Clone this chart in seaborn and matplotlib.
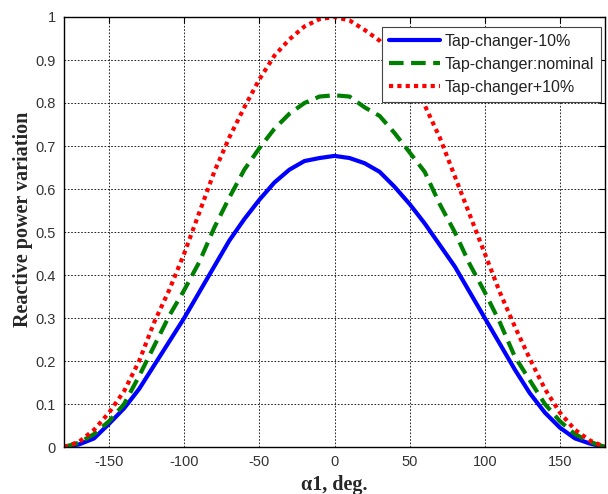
import numpy as np
import pandas as pd
import matplotlib
matplotlib.use("Agg")
import matplotlib.pyplot as plt
import seaborn as sns

angles = [-180, -170, -160, -150, -140, -130, -120, -110, -100, -90, -80, -70, -60, -50, -40, -30, -20, -10,
          0, 10, 20, 30, 40, 50, 60, 70, 80, 90, 100, 110, 120, 130, 140, 150, 160, 170, 180]

tap_minus = [0.0, 0.006, 0.02, 0.054, 0.09, 0.135, 0.19, 0.245, 0.30, 0.36, 0.42, 0.48, 0.53, 0.575, 0.615, 0.645, 0.665, 0.672,
             0.677, 0.672, 0.66, 0.64, 0.605, 0.565, 0.52, 0.47, 0.42, 0.36, 0.30, 0.24, 0.18, 0.125, 0.08, 0.045, 0.02, 0.008, 0.0]
tap_nominal = [0.0, 0.01, 0.03, 0.06, 0.10, 0.165, 0.235, 0.305, 0.365, 0.43, 0.51, 0.58, 0.645, 0.695, 0.74, 0.775, 0.80, 0.815,
               0.818, 0.815, 0.79, 0.77, 0.73, 0.685, 0.64, 0.565, 0.50, 0.425, 0.36, 0.29, 0.21, 0.155, 0.10, 0.06, 0.03, 0.012, 0.0]
tap_plus = [0.0, 0.012, 0.04, 0.08, 0.13, 0.20, 0.29, 0.365, 0.45, 0.545, 0.64, 0.72, 0.79, 0.855, 0.91, 0.948, 0.978, 0.995,
            1.0, 0.992, 0.97, 0.945, 0.905, 0.855, 0.795, 0.72, 0.63, 0.54, 0.45, 0.36, 0.28, 0.205, 0.135, 0.08, 0.04, 0.015, 0.0]

series_names = ["Tap-changer-10%", "Tap-changer:nominal", "Tap-changer+10%"]
x_ticks = [-150, -100, -50, 0, 50, 100, 150]
y_ticks = [0, 0.1, 0.2, 0.3, 0.4, 0.5, 0.6, 0.7, 0.8, 0.9, 1]
y_tick_labels = ["0", "0.1", "0.2", "0.3", "0.4", "0.5", "0.6", "0.7", "0.8", "0.9", "1"]

sns.set_style("white")
plt.rcParams['font.family'] = ['Liberation Sans', 'DejaVu Sans']
plt.rcParams['axes.unicode_minus'] = False

fig = plt.figure(figsize=(6.08, 4.94), dpi=100)
ax = fig.add_axes([64 / 608, 1 - 447 / 494, (605 - 64) / 608, (447 - 17) / 494])

styles = [
    dict(color="#0000ff", linestyle="-", linewidth=3.0),
    dict(color="#008000", linestyle=(0, (3.5, 1.8)), linewidth=3.0),
    dict(color="#ff0000", linestyle=(0, (1.0, 1.0)), linewidth=3.0),
]
for name, vals, st in zip(series_names, [tap_minus, tap_nominal, tap_plus], styles):
    df = pd.DataFrame({"angle": angles, "value": vals})
    sns.lineplot(data=df, x="angle", y="value", ax=ax, label=name, **st)

ax.set_xlim(-180, 180)
ax.set_ylim(0, 1)
ax.set_xticks(x_ticks)
ax.set_xticklabels([str(v) for v in x_ticks])
ax.set_yticks(y_ticks)
ax.set_yticklabels(y_tick_labels)
ax.tick_params(direction="in", length=4, width=0.8, colors="black", labelsize=10.5, pad=6,
               top=True, right=True, labelcolor="#333333")
ax.grid(True, color="black", linestyle=(0, (2, 2)), linewidth=0.6)
for s in ax.spines.values():
    s.set_visible(True)
    s.set_color("black")
    s.set_linewidth(1.0)

ax.set_xlabel("α1, deg.", family=["Liberation Serif", "DejaVu Serif"], fontweight="bold", fontsize=14.5, labelpad=4)
ax.set_ylabel("Reactive power variation", family=["Liberation Serif", "DejaVu Serif"], fontweight="bold", fontsize=14.5)
ax.yaxis.set_label_coords(-0.058, 0.53)

leg = ax.legend(loc="upper right", bbox_to_anchor=(0.993, 0.977), fontsize=11.5, frameon=True, fancybox=False,
                edgecolor="#444444", framealpha=1, handlelength=3.2, borderpad=0.45, labelspacing=0.5, handletextpad=0.3,
                borderaxespad=0.0)
leg.get_frame().set_linewidth(0.8)
for t in leg.get_texts():
    t.set_color("#222222")

fig.savefig("out.png", dpi=100, facecolor="white")
